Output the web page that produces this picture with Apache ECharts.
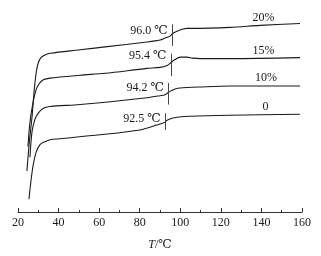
<!DOCTYPE html>
<html>
<head>
<meta charset="utf-8">
<script src="https://cdn.jsdelivr.net/npm/echarts@6/dist/echarts.min.js"></script>
<style>
    html, body { margin: 0; padding: 0; background: #fff; }
    #chart { width: 321px; height: 256px; }
</style>
</head>
<body>
<div id="chart"></div>
<script>
/* DSC curves, heat flow in arbitrary units (no y scale in the figure) */
const temp20 = [24.4, 25.6, 26.9, 28.0, 29.0, 29.9, 31.3, 33.6, 36.0, 50.6, 62.9, 83.6, 90.0, 92.5, 94.9, 96.4, 98.4, 100.9, 103.3, 106.3, 124.5, 139.3, 159.0];
const flow20 = [42, 72, 97, 125, 143, 152, 158, 161, 162.5, 166, 169, 174, 176, 178, 180, 183, 185, 187, 188, 188, 189, 191, 193];

const temp15 = [24.9, 25.9, 27.4, 28.9, 30.35, 32.3, 35.8, 50.6, 62.9, 83.6, 90.0, 93.5, 95.4, 97.4, 99.9, 103.3, 106.0, 110.0, 124.5, 159.0];
const flow15 = [67, 92, 112, 125, 131, 135, 137, 140, 142, 147, 148, 150, 153, 156, 158.5, 158.5, 157.5, 157, 157, 158];

const temp10 = [25.9, 26.9, 28.4, 29.9, 32.3, 35.8, 50.6, 83.6, 90.0, 92.5, 93.9, 95.4, 97.4, 99.9, 109.7, 124.5, 159.0];
const flow10 = [56, 82, 95, 101, 106, 108, 110, 117, 119, 120, 122, 124, 126, 127, 128, 129, 129];

const temp0 = [25.4, 26.4, 27.4, 28.9, 30.85, 33.3, 35.8, 40.7, 60.4, 80.1, 88.5, 91.5, 92.5, 93.5, 95.9, 98.4, 104.8, 124.5, 159.0];
const flow0 = [13, 32, 47, 61, 69, 72, 74, 75, 79, 84, 89, 91, 92, 94, 96, 97, 98, 99, 100];

const seriesNames = ['20%', '15%', '10%', '0'];
const glassTemps = [96.0, 95.4, 94.2, 92.5];
const glassLabels = ['96.0 ℃', '95.4 ℃', '94.2 ℃', '92.5 ℃'];
// vertical marker span and label height for each curve
const markerLow = [170, 139, 110, 84];
const markerHigh = [192, 162, 132, 101];
const glassLabelY = [185, 160, 127, 95];
// position of the percentage label over each curve
const nameLabelT = [141.0, 141.0, 142.3, 142.0];
const nameLabelY = [199, 165, 137, 108];

const xTicks = [20, 40, 60, 80, 100, 120, 140, 160];

const temps = [temp20, temp15, temp10, temp0];
const flows = [flow20, flow15, flow10, flow0];

function zip(a, b) {
    return a.map((v, i) => [v, b[i]]);
}

const font = '"Liberation Serif", "DejaVu Serif", serif';
const ink = '#1a1a1a';

const series = seriesNames.map((name, i) => ({
    name: name,
    type: 'line',
    data: zip(temps[i], flows[i]),
    smooth: 0.3,
    showSymbol: false,
    silent: true,
    lineStyle: { color: ink, width: 1.1 },
    markLine: {
        silent: true,
        symbol: 'none',
        label: { show: false },
        lineStyle: { color: '#444', width: 1, type: 'solid' },
        data: [[{ coord: [glassTemps[i], markerLow[i]] }, { coord: [glassTemps[i], markerHigh[i]] }]]
    },
    markPoint: {
        silent: true,
        symbol: 'circle',
        symbolSize: 1,
        itemStyle: { color: 'transparent' },
        data: [
            {
                coord: [glassTemps[i], glassLabelY[i]],
                label: { show: true, formatter: glassLabels[i], position: 'left', distance: 4, color: ink, fontFamily: font, fontSize: 12 }
            },
            {
                coord: [nameLabelT[i], nameLabelY[i]],
                label: { show: true, formatter: name, position: 'inside', color: ink, fontFamily: font, fontSize: 12 }
            }
        ]
    }
}));

const chart = echarts.init(document.getElementById('chart'));
chart.setOption({
    animation: false,
    grid: { left: 18, right: 19, top: 0, bottom: 39 },
    xAxis: {
        type: 'value',
        min: xTicks[0],
        max: xTicks[xTicks.length - 1],
        interval: 20,
        name: '{i|T}/℃',
        nameLocation: 'middle',
        nameGap: 27,
        nameTextStyle: {
            color: ink,
            fontFamily: font,
            fontSize: 12,
            rich: { i: { fontStyle: 'italic', fontFamily: font, fontSize: 12, color: ink } }
        },
        axisLine: { lineStyle: { color: '#333', width: 1 } },
        axisTick: { inside: true, length: 4, lineStyle: { color: '#333' } },
        minorTick: { show: true, splitNumber: 2, length: 2, lineStyle: { color: '#333' } },
        splitLine: { show: false },
        axisLabel: { color: ink, fontFamily: font, fontSize: 12, margin: 5 }
    },
    yAxis: {
        type: 'value',
        min: 0,
        max: 217,
        show: false
    },
    series: series
});
</script>
</body>
</html>
